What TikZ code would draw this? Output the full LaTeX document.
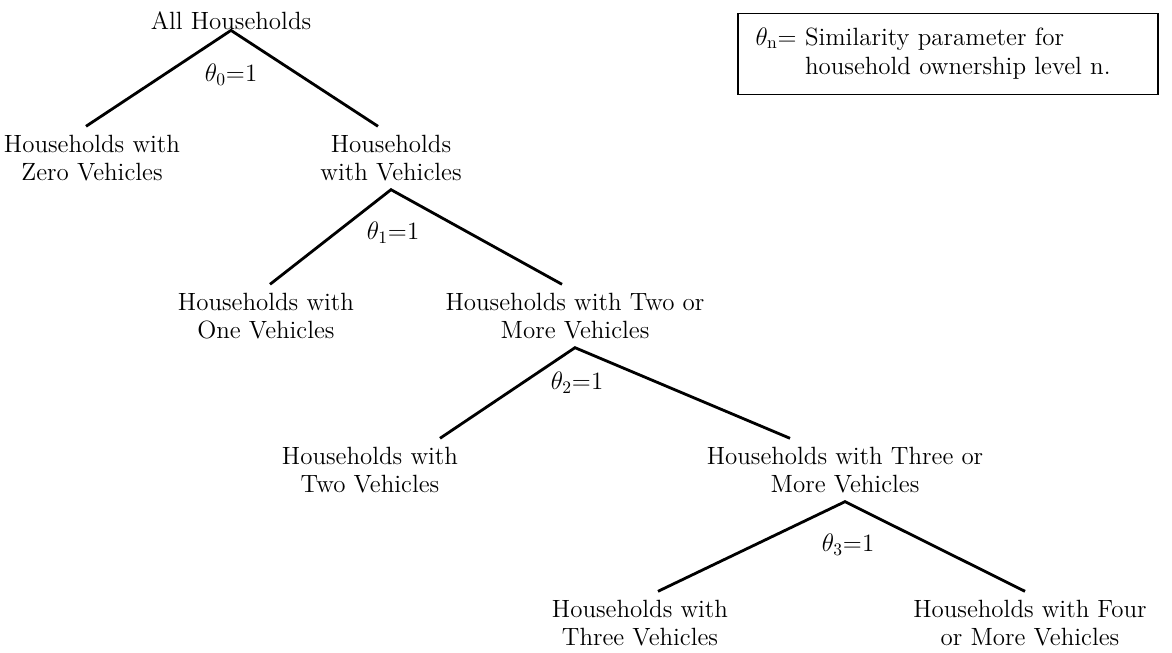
\documentclass[tikz,border=0pt]{standalone}
\begin{document}
\begin{tikzpicture}[every node/.style={font=\fontsize{14.2}{15.5}\selectfont},
  group/.style={align=center, inner xsep=2pt, inner ysep=5pt},
  param/.style={inner sep=0pt},
  legend/.style={rectangle, draw, line width=1pt, minimum width=8.4cm, minimum height=1.62cm,
    text width=7.7cm, align=left, inner xsep=0.35cm, font=\fontsize{14.2}{17}\selectfont},
  branch/.style={line width=1.6pt}
]
\useasboundingbox (0,0) rectangle (23.44,-13.06);
% Ebenen des Baums
\node[param] (all) at (4.62,-0.42) {All Households};
\node[group] (zero) at (1.84,-3.16) {Households with\\Zero Vehicles};
\node[group] (veh) at (7.82,-3.16) {Households\\with Vehicles};
\node[group] (one) at (5.32,-6.32) {Households with\\One Vehicles};
\node[group] (twoplus) at (11.50,-6.32) {Households with Two or\\More Vehicles};
\node[group] (two) at (7.40,-9.40) {Households with\\Two Vehicles};
\node[group] (threeplus) at (16.90,-9.40) {Households with Three or\\More Vehicles};
\node[group] (three) at (12.80,-12.46) {Households with\\Three Vehicles};
\node[group] (fourplus) at (20.60,-12.46) {Households with Four\\or More Vehicles};
% Parameter
\node[param] (t0) at (4.62,-1.50) {$\theta_0$=1};
\node[param] (t1) at (7.86,-4.66) {$\theta_1$=1};
\node[param] (t2) at (11.54,-7.66) {$\theta_2$=1};
\node[param] (t3) at (16.96,-10.90) {$\theta_3$=1};
% Legende
\node[legend] (key) at (18.96,-1.08) {\begin{tabular}{@{}l@{\ }l@{}}
  $\theta_\mathrm{n}$= & Similarity parameter for\\
   & household ownership level n.
\end{tabular}};
% Zweige
\draw[branch] ([xshift=-0.12cm]zero.north) -- (all.south) -- ([xshift=-0.26cm]veh.north);
\draw[branch] ([xshift=0.08cm]one.north) -- (veh.south) -- ([xshift=-0.26cm]twoplus.north);
\draw[branch] ([xshift=1.4cm]two.north) -- (twoplus.south) -- ([xshift=-1.1cm]threeplus.north);
\draw[branch] ([xshift=0.36cm]three.north) -- (threeplus.south) -- ([xshift=-0.10cm]fourplus.north);
\end{tikzpicture}
\end{document}
